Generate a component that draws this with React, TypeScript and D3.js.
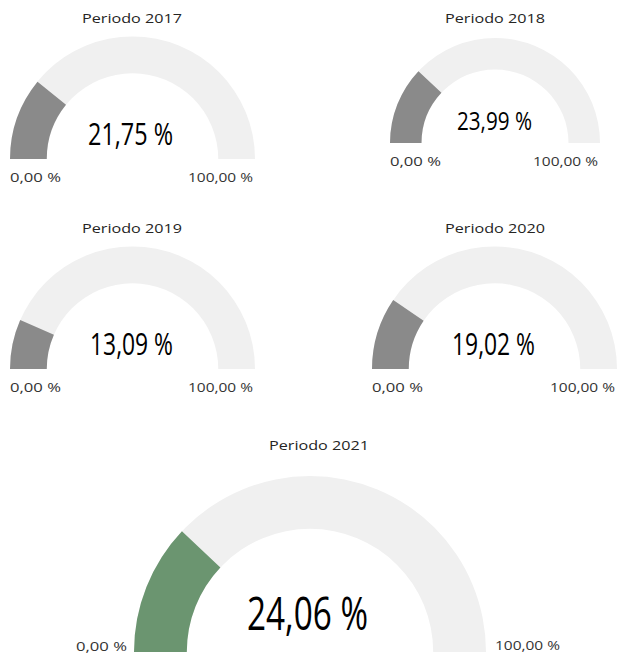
import React, { useEffect, useRef } from 'react';
import * as d3 from 'd3';

// gauge data (percent values, min/max)
const periods = ['Periodo 2017', 'Periodo 2018', 'Periodo 2019', 'Periodo 2020', 'Periodo 2021'];
const values = [21.75, 23.99, 13.09, 19.02, 24.06];
const minValues = [0, 0, 0, 0, 0];
const maxValues = [100, 100, 100, 100, 100];

// layout of each tile: arc centre, outer radius, title / callout positions
const layout = [
  { cx: 132.5, cy: 159, r: 122.5, titleX: 132, titleY: 23, valueX: 130.5, valueDy: -14, valueSize: 31, valueW: 85, labels: 'below' },
  { cx: 495, cy: 143, r: 105, titleX: 495, titleY: 23, valueX: 494.5, valueDy: -13, valueSize: 25, valueW: 75, labels: 'below' },
  { cx: 132.5, cy: 369, r: 122.5, titleX: 132, titleY: 233, valueX: 131.5, valueDy: -14, valueSize: 31, valueW: 83, labels: 'below' },
  { cx: 494.5, cy: 369, r: 122.5, titleX: 495, titleY: 233, valueX: 493.5, valueDy: -14, valueSize: 31, valueW: 83, labels: 'below' },
  { cx: 310, cy: 652, r: 176, titleX: 319, titleY: 450, valueX: 307.5, valueDy: -22, valueSize: 46, valueW: 121, labels: 'side' },
];

const fillColors = ['#8a8a8a', '#8a8a8a', '#8a8a8a', '#8a8a8a', '#6b9570'];
const trackColor = '#f0f0f0';

const fmt = (v: number) => v.toFixed(2).replace('.', ',') + ' %';

const App = () => {
  const ref = useRef<SVGSVGElement>(null);

  useEffect(() => {
    const svg = d3.select(ref.current);
    svg.selectAll('*').remove();

    const font = "'Segoe UI', 'Open Sans', 'Noto Sans', sans-serif";

    periods.forEach((title, i) => {
      const L = layout[i];
      const scale = d3.scaleLinear()
        .domain([minValues[i], maxValues[i]])
        .range([-Math.PI / 2, Math.PI / 2])
        .clamp(true);

      const arc = d3.arc<{ start: number; end: number }>()
        .innerRadius(L.r * 0.7)
        .outerRadius(L.r)
        .startAngle(d => d.start)
        .endAngle(d => d.end);

      const g = svg.append('g').attr('transform', `translate(${L.cx},${L.cy})`);

      // Track
      g.append('path')
        .attr('d', arc({ start: scale(minValues[i]), end: scale(maxValues[i]) }) as string)
        .attr('fill', trackColor);

      // Value fill
      g.append('path')
        .attr('d', arc({ start: scale(minValues[i]), end: scale(values[i]) }) as string)
        .attr('fill', fillColors[i]);

      // Title
      svg.append('text')
        .attr('x', L.titleX)
        .attr('y', L.titleY)
        .attr('text-anchor', 'middle')
        .attr('font-family', font)
        .attr('font-size', 13)
        .attr('fill', '#252423')
        .attr('textLength', 100)
        .attr('lengthAdjust', 'spacingAndGlyphs')
        .text(title);

      // Callout value
      svg.append('text')
        .attr('x', L.valueX)
        .attr('y', L.cy + L.valueDy)
        .attr('text-anchor', 'middle')
        .attr('font-family', font)
        .attr('font-size', L.valueSize)
        .attr('font-weight', 500)
        .attr('fill', '#000')
        .attr('textLength', L.valueW)
        .attr('lengthAdjust', 'spacingAndGlyphs')
        .text(fmt(values[i]));

      // Min / max labels
      const minText = svg.append('text')
        .attr('font-family', font)
        .attr('font-size', 13)
        .attr('fill', '#333')
        .attr('textLength', 51)
        .attr('lengthAdjust', 'spacingAndGlyphs')
        .text(fmt(minValues[i]));
      const maxText = svg.append('text')
        .attr('font-family', font)
        .attr('font-size', 13)
        .attr('fill', '#333')
        .attr('textLength', 65)
        .attr('lengthAdjust', 'spacingAndGlyphs')
        .text(fmt(maxValues[i]));

      if (L.labels === 'below') {
        minText.attr('x', L.cx - L.r).attr('y', L.cy + 23).attr('text-anchor', 'start');
        maxText.attr('x', L.cx + L.r - 2).attr('y', L.cy + 23).attr('text-anchor', 'end');
      } else {
        minText.attr('x', L.cx - L.r - 7).attr('y', L.cy - 1).attr('text-anchor', 'end');
        maxText.attr('x', L.cx + L.r + 9).attr('y', L.cy - 2).attr('text-anchor', 'start');
      }
    });
  }, []);

  return (
    <svg
      ref={ref}
      width={618}
      height={654}
      style={{ position: 'absolute', left: 0, top: 0, background: '#fff' }}
    />
  );
};

export default App;
